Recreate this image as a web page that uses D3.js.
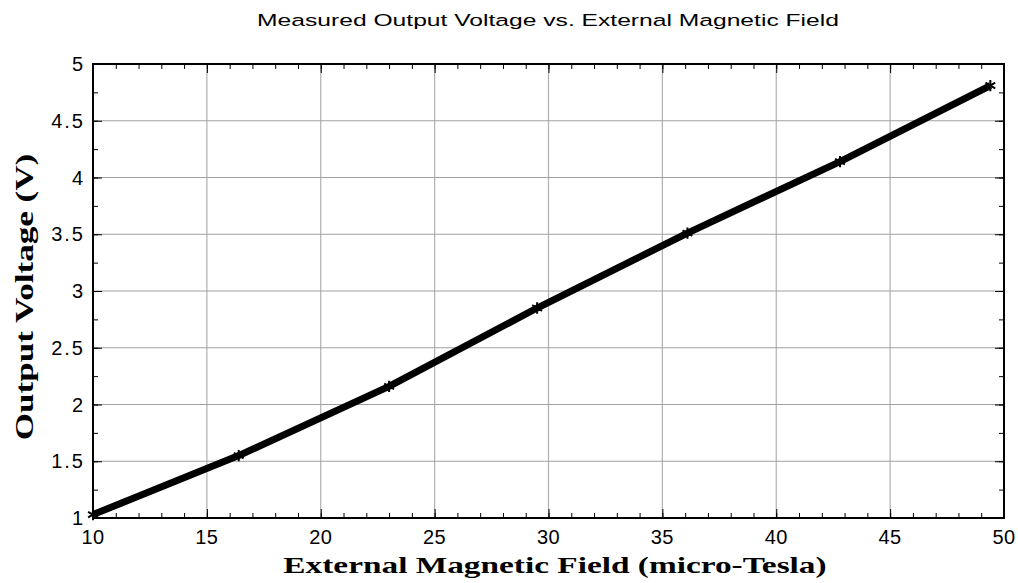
<!DOCTYPE html>
<html>
<head>
<meta charset="utf-8">
<script src="https://cdn.jsdelivr.net/npm/d3@7"></script>
<style>
  body { margin: 0; background: #fff; }
  text { fill: #000; }
</style>
</head>
<body>
<div id="chart"></div>
<script>
// Data
var fieldValues = [10, 16.4, 23, 29.5, 36.1, 42.8, 49.4];
var voltageValues = [1.03, 1.55, 2.16, 2.85, 3.51, 4.14, 4.81];
var xTicks = [10, 15, 20, 25, 30, 35, 40, 45, 50];
var yTicks = [1, 1.5, 2, 2.5, 3, 3.5, 4, 4.5, 5];

var svgWidth = 1018, svgHeight = 583;
var margins = { top: 64, bottom: 65, left: 93, right: 14 };
var width = svgWidth - margins.left - margins.right;
var height = svgHeight - margins.top - margins.bottom;

var svg = d3.select("#chart")
    .append("svg")
    .attr("width", svgWidth)
    .attr("height", svgHeight);

var g = svg.append("g")
    .attr("transform", "translate(" + margins.left + "," + margins.top + ")");

var x = d3.scaleLinear().domain([10, 50]).range([0, width]);
var y = d3.scaleLinear().domain([1, 5]).range([height, 0]);

// Grid lines
g.append("g").selectAll("line")
    .data(xTicks.slice(1, -1))
    .join("line")
    .attr("x1", d => x(d)).attr("x2", d => x(d))
    .attr("y1", 0).attr("y2", height)
    .attr("stroke", "#b0b0b0").attr("stroke-width", 1.2);
g.append("g").selectAll("line")
    .data(yTicks.slice(1, -1))
    .join("line")
    .attr("y1", d => y(d)).attr("y2", d => y(d))
    .attr("x1", 0).attr("x2", width)
    .attr("stroke", "#a0a0a0").attr("stroke-width", 1);

// Minor ticks (inside)
var xMinor = d3.range(10, 51, 1);
var yMinor = d3.range(1, 5.01, 0.25);

function insideAxis(axis, size) {
    return axis.tickSize(size).tickFormat("").tickSizeOuter(0);
}

g.append("g").attr("transform", "translate(0," + height + ")")
    .call(insideAxis(d3.axisTop(x).tickValues(xMinor), 5));
g.append("g")
    .call(insideAxis(d3.axisBottom(x).tickValues(xMinor), 5));
g.append("g")
    .call(insideAxis(d3.axisRight(y).tickValues(yMinor), 5));
g.append("g").attr("transform", "translate(" + width + ",0)")
    .call(insideAxis(d3.axisLeft(y).tickValues(yMinor), 5));

// Major ticks (inside, longer)
g.append("g").attr("transform", "translate(0," + height + ")")
    .call(insideAxis(d3.axisTop(x).tickValues(xTicks), 9));
g.append("g")
    .call(insideAxis(d3.axisBottom(x).tickValues(xTicks), 9));
g.append("g")
    .call(insideAxis(d3.axisRight(y).tickValues(yTicks), 9));
g.append("g").attr("transform", "translate(" + width + ",0)")
    .call(insideAxis(d3.axisLeft(y).tickValues(yTicks), 9));

g.selectAll(".domain").remove();
g.selectAll(".tick line").attr("stroke", "#000").attr("stroke-width", 1);

// Frame
g.append("rect")
    .attr("width", width).attr("height", height)
    .attr("fill", "none").attr("stroke", "#000").attr("stroke-width", 2);

// Tick labels
g.append("g").selectAll("text")
    .data(xTicks)
    .join("text")
    .attr("x", d => x(d))
    .attr("y", height + 26)
    .attr("text-anchor", "middle")
    .style("font-family", "'Liberation Sans', Arial, sans-serif")
    .style("font-size", "20px")
    .style("letter-spacing", "0.5px")
    .text(d => d);

g.append("g").selectAll("text")
    .data(yTicks)
    .join("text")
    .attr("x", -8)
    .attr("y", d => y(d) + 7)
    .attr("text-anchor", "end")
    .style("font-family", "'Liberation Sans', Arial, sans-serif")
    .style("font-size", "20px")
    .style("letter-spacing", "2px")
    .text(d => d);

// Data line
var pts = fieldValues.map((f, i) => ({ f: f, v: voltageValues[i] }));
var line = d3.line().x(d => x(d.f)).y(d => y(d.v));

g.append("path")
    .attr("d", line(pts))
    .attr("fill", "none")
    .attr("stroke", "#000")
    .attr("stroke-width", 7)
    .attr("stroke-linejoin", "round");

// Star markers
g.append("g").selectAll("path")
    .data(pts)
    .join("path")
    .attr("transform", d => "translate(" + x(d.f) + "," + y(d.v) + ")")
    .attr("d", d3.symbol().type(d3.symbolAsterisk).size(90))
    .attr("fill", "none")
    .attr("stroke", "#000")
    .attr("stroke-width", 2);

// Titles (the original figure is stretched sideways)
svg.append("text")
    .attr("transform", "translate(548,26) scale(1.45,1)")
    .attr("text-anchor", "middle")
    .style("font-family", "'Liberation Sans', Arial, sans-serif")
    .style("font-size", "17px")
    .text("Measured Output Voltage vs. External Magnetic Field");

svg.append("text")
    .attr("transform", "translate(555,573) scale(1.45,1)")
    .attr("text-anchor", "middle")
    .style("font-family", "'Liberation Serif', 'Times New Roman', serif")
    .style("font-weight", "bold")
    .style("font-size", "23px")
    .text("External Magnetic Field (micro-Tesla)");

svg.append("text")
    .attr("transform", "translate(33,297) rotate(-90) scale(1.35,1)")
    .attr("text-anchor", "middle")
    .style("font-family", "'Liberation Serif', 'Times New Roman', serif")
    .style("font-weight", "bold")
    .style("font-size", "26px")
    .text("Output Voltage (V)");
</script>
</body>
</html>
